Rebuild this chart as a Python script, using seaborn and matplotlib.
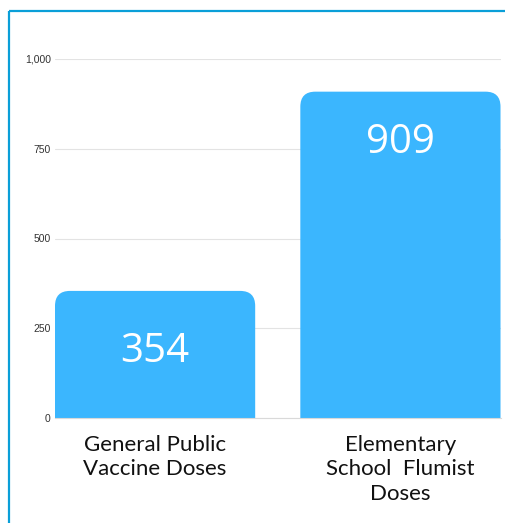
"""
Bar chart: flu vaccine doses, general public vs elementary school Flumist.
"""
import matplotlib.pyplot as plt
import pandas as pd
import seaborn as sns
from matplotlib.lines import Line2D
from matplotlib.patches import PathPatch
from matplotlib.path import Path

CATEGORIES = ["General Public\nVaccine Doses", "Elementary\nSchool  Flumist\nDoses"]
DOSES = [354, 909]
Y_TICKS = [0, 250, 500, 750, 1000]
Y_TICK_LABELS = ["0", "250", "500", "750", "1,000"]

BAR = "#3bb6fe"
GRID = "#e3e3e3"
FRAME = "#0a9fd8"


def rounded_top(x, y, w, h, rx, ry):
    # rectangle path with rounded top corners only (data units)
    verts = [
        (x, y), (x, y + h - ry), (x, y + h), (x + rx, y + h),
        (x + w - rx, y + h), (x + w, y + h), (x + w, y + h - ry),
        (x + w, y), (x, y),
    ]
    codes = [
        Path.MOVETO, Path.LINETO, Path.CURVE3, Path.CURVE3,
        Path.LINETO, Path.CURVE3, Path.CURVE3,
        Path.LINETO, Path.CLOSEPOLY,
    ]
    return Path(verts, codes)


def main() -> None:
    sns.set_theme(style="white")
    plt.rcParams["font.family"] = ["Lato", "DejaVu Sans"]

    df = pd.DataFrame({"category": CATEGORIES, "doses": DOSES})

    fig = plt.figure(figsize=(5.06, 5.23), dpi=100)
    fig.patch.set_facecolor("white")
    ax = fig.add_axes([55 / 506, 1 - 418 / 523, 446 / 506, 359 / 523])

    sns.barplot(data=df, x="category", y="doses", color=BAR, saturation=1,
                width=0.816, ax=ax)

    ax.set_xlim(-0.408, 1.41)
    ax.set_ylim(0, 1000)
    ax.set_yticks(Y_TICKS)
    ax.set_yticklabels(Y_TICK_LABELS, fontsize=7.5, color="#333333",
                       family=["Liberation Sans", "DejaVu Sans"])
    ax.set_xlabel("")
    ax.set_ylabel("")
    ax.tick_params(axis="y", length=0, pad=3)
    ax.tick_params(axis="x", length=0, pad=12, labelsize=16, labelcolor="#111111")
    for lbl in ax.get_xticklabels():
        lbl.set_verticalalignment("top")
        lbl.set_linespacing(1.3)
    ax.yaxis.grid(True, color=GRID, lw=0.8)
    ax.set_axisbelow(True)
    for side in ["top", "right", "left"]:
        ax.spines[side].set_visible(False)
    ax.spines["bottom"].set_color("#d9d9d9")
    ax.spines["bottom"].set_linewidth(0.8)

    # swap square bars for ones with rounded top corners
    bb = ax.get_window_extent()
    px_x = bb.width / (ax.get_xlim()[1] - ax.get_xlim()[0])
    px_y = bb.height / (ax.get_ylim()[1] - ax.get_ylim()[0])
    radius = 15
    for bar, val, off in zip(list(ax.patches), DOSES, [-44, -37]):
        x, w = bar.get_x(), bar.get_width()
        bar.set_visible(False)
        ax.add_patch(PathPatch(rounded_top(x, 0, w, val, radius / px_x, radius / px_y),
                               facecolor=BAR, edgecolor="none", zorder=2))
        ax.annotate(f"{val}", (x + w / 2, val), xytext=(0, off),
                    textcoords="offset points", ha="center", va="center",
                    fontsize=29, color="white",
                    family=["Open Sans", "DejaVu Sans"], zorder=3)

    # blue frame, top and left edges
    top = 1 - 11 / 523
    left = 9 / 506
    fig.add_artist(Line2D([left, 1.02], [top, top], color=FRAME, lw=1.6,
                          solid_capstyle="butt"))
    fig.add_artist(Line2D([left, left], [-0.02, top], color=FRAME, lw=1.6,
                          solid_capstyle="butt"))

    fig.savefig("out.png", dpi=100, facecolor="white")
    plt.close(fig)


if __name__ == "__main__":
    main()
